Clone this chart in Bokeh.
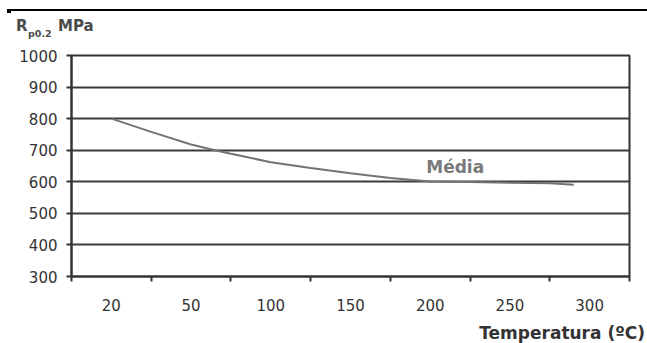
from bokeh.plotting import figure
from bokeh.models import Range1d, FixedTicker, Label, Div
from bokeh.layouts import column
from bokeh.embed import file_html
from bokeh.resources import INLINE
import numpy as np

# Temperature categories on the x axis (evenly spaced, ordinal)
temps = [20, 50, 100, 150, 200, 250, 300]
temp_labels = ["20", "50", "100", "150", "200", "250", "300"]

# Proof strength Rp0.2 (MPa) axis ticks
y_ticks = [300, 400, 500, 600, 700, 800, 900, 1000]

# Mean curve ("Média"): temperature (ºC) and Rp0.2 (MPa)
curve_temp = [20, 35, 50, 65, 75, 100, 125, 150, 175, 200, 225, 250, 275, 290]
curve_rp = [800, 758, 718, 700, 689, 662, 644, 627, 612, 601, 599, 597, 595, 591]

# Each temperature category sits at the centre of its slot on the axis
slot_centres = [i + 0.5 for i in range(len(temps))]
curve_x = np.interp(curve_temp, temps, slot_centres)

DARK = "#333333"
FONT = "DejaVu Sans"
W = 647

# Header: rule across the top and the y-axis caption R_p0.2 MPa
cap_style = ("position:absolute;font-family:'DejaVu Sans';font-weight:bold;"
             "color:#4a4a4a;white-space:nowrap;")
head_html = (
    f'<div style="position:relative;width:{W}px;height:40px;">'
    '<div style="position:absolute;left:7px;top:9px;width:640px;height:2px;background:#000;"></div>'
    '<div style="position:absolute;left:7px;top:11px;width:4px;height:2px;background:#000;"></div>'
    f'<span style="{cap_style}left:16px;top:19px;font-size:15px;line-height:15px;">R</span>'
    f'<span style="{cap_style}left:28px;top:29px;font-size:9.5px;line-height:9.5px;">p0.2</span>'
    f'<span style="{cap_style}left:58px;top:19px;font-size:15px;line-height:15px;">MPa</span>'
    '</div>'
)
head = Div(text=head_html, width=W, height=40, margin=(0, 0, 0, 0))

# Main chart
p = figure(width=W, height=276, output_backend="svg", toolbar_location=None,
           x_range=Range1d(0, len(temps)), y_range=Range1d(300, 1000),
           min_border_left=71, min_border_right=18, min_border_top=15,
           min_border_bottom=40)
p.background_fill_color = "white"
p.border_fill_color = "white"
p.outline_line_color = DARK
p.outline_line_width = 2

# x axis: labels at slot centres, short ticks at slot boundaries
xa = p.xaxis[0]
xa.ticker = FixedTicker(ticks=slot_centres, minor_ticks=list(range(len(temps) + 1)))
xa.major_label_overrides = {c: lab for c, lab in zip(slot_centres, temp_labels)}
xa.major_tick_out = 0
xa.major_tick_in = 0
xa.minor_tick_out = 5
xa.minor_tick_in = 0
xa.minor_tick_line_color = DARK
xa.minor_tick_line_width = 2
xa.axis_line_color = DARK
xa.axis_line_width = 2
xa.major_label_standoff = 17
xa.major_label_text_font = FONT
xa.major_label_text_font_size = "15px"
xa.major_label_text_color = DARK

ya = p.yaxis[0]
ya.ticker = FixedTicker(ticks=y_ticks)
ya.major_tick_out = 5
ya.major_tick_in = 0
ya.major_tick_line_color = DARK
ya.major_tick_line_width = 2
ya.minor_tick_line_color = None
ya.axis_line_color = DARK
ya.axis_line_width = 2
ya.major_label_standoff = 9
ya.major_label_text_font = FONT
ya.major_label_text_font_size = "15px"
ya.major_label_text_color = DARK

p.xgrid.grid_line_color = None
p.ygrid.ticker = FixedTicker(ticks=y_ticks)
p.ygrid.grid_line_color = "#3a3a3a"
p.ygrid.grid_line_width = 2

p.line(curve_x, curve_rp, line_color="#737373", line_width=2)

p.add_layout(Label(x=np.interp(200, temps, slot_centres), y=646, x_offset=-4,
                   text="Média", text_font=FONT, text_font_style="bold",
                   text_font_size="17px", text_color="#7a7a7a",
                   text_baseline="alphabetic"))

# Footer: x-axis caption, right-aligned
foot_html = (
    f'<div style="position:relative;width:{W}px;height:27px;">'
    '<span style="position:absolute;right:2px;top:9px;font-family:\'DejaVu Sans\';'
    'font-weight:bold;font-size:17px;line-height:17px;color:#333333;white-space:nowrap;">'
    'Temperatura (ºC)</span></div>'
)
foot = Div(text=foot_html, width=W, height=27, margin=(0, 0, 0, 0))

layout = column(head, p, foot, spacing=0)
open("out.html", "w").write(file_html(layout, INLINE))
